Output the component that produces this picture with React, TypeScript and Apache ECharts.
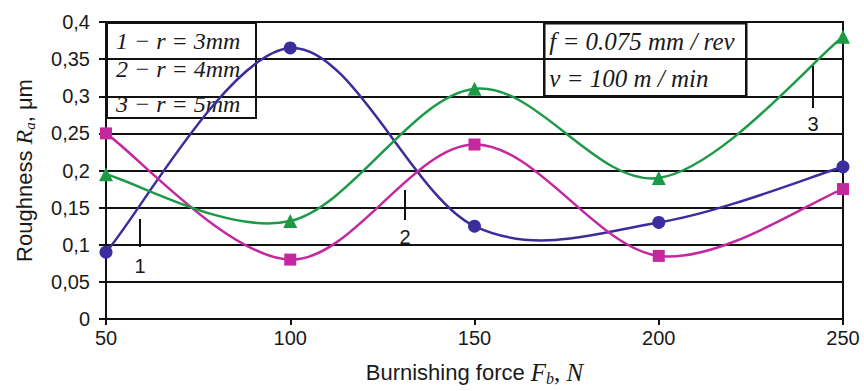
import React, { useEffect, useRef } from "react";
import * as echarts from "echarts";

const forces = [50, 100, 150, 200, 250];
const r3mm = [0.09, 0.365, 0.125, 0.13, 0.205];
const r4mm = [0.25, 0.08, 0.235, 0.085, 0.175];
const r5mm = [0.195, 0.132, 0.31, 0.19, 0.38];
const yTicks = [0, 0.05, 0.1, 0.15, 0.2, 0.25, 0.3, 0.35, 0.4];
const legendLines = ["1 − r = 3mm", "2 − r = 4mm", "3 − r = 5mm"];
const condLines = ["f = 0.075 mm / rev", "v = 100 m / min"];

const SANS = "'Liberation Sans', Arial, sans-serif";
const SERIF = "'Liberation Serif', 'Times New Roman', serif";
const INK = "#1a1a1a";

function pair(xs: number[], ys: number[]) {
  return xs.map((x, i) => [x, ys[i]]);
}

// Catmull-Rom style smoothed curve drawn segment by segment through the axes' scales
function curveSeries(ys: number[], color: string) {
  return {
    type: "custom",
    data: pair(forces, ys),
    z: 3,
    silent: true,
    renderItem: (params: any, api: any) => {
      const i = params.dataIndex;
      const n = forces.length;
      if (i >= n - 1) return { type: "group", children: [] };
      const p = (k: number) => {
        const kk = Math.max(0, Math.min(n - 1, k));
        return api.coord([forces[kk], ys[kk]]);
      };
      const p0 = p(i - 1), p1 = p(i), p2 = p(i + 1), p3 = p(i + 2);
      return {
        type: "bezierCurve",
        shape: {
          x1: p1[0],
          y1: p1[1],
          cpx1: p1[0] + (p2[0] - p0[0]) / 6,
          cpy1: p1[1] + (p2[1] - p0[1]) / 6,
          cpx2: p2[0] - (p3[0] - p1[0]) / 6,
          cpy2: p2[1] - (p3[1] - p1[1]) / 6,
          x2: p2[0],
          y2: p2[1],
        },
        style: { stroke: color, lineWidth: 2.5, fill: null },
      };
    },
  };
}

function markerSeries(ys: number[], color: string, symbol: string, size: number) {
  return {
    type: "scatter",
    data: pair(forces, ys),
    symbol,
    symbolSize: size,
    itemStyle: { color, opacity: 1 },
    z: 4,
    silent: true,
  };
}

export default function App() {
  const ref = useRef<HTMLDivElement>(null);
  useEffect(() => {
    if (!ref.current) return;
    const chart = echarts.init(ref.current, undefined, { renderer: "svg" });
    const BLUE = "#3b2d9c";
    const MAG = "#c3289e";
    const GREEN = "#1d9a48";
    chart.setOption({
      animation: false,
      backgroundColor: "#fff",
      grid: {
        left: 106,
        right: 21,
        top: 22,
        bottom: 69,
        show: true,
        borderColor: "#111",
        borderWidth: 2,
        backgroundColor: "transparent",
      },
      xAxis: {
        type: "value",
        min: 50,
        max: 250,
        interval: 50,
        axisLine: { show: true, lineStyle: { color: "#111", width: 2 } },
        axisTick: { show: true, length: 6, lineStyle: { color: "#111", width: 2 } },
        splitLine: { show: false },
        axisLabel: { color: INK, fontSize: 20, fontFamily: SANS, margin: 9 },
        name: "Burnishing force {i|F}{sub|b}{n|, }{i|N}",
        nameLocation: "middle",
        nameGap: 40,
        nameTextStyle: {
          color: INK,
          fontSize: 22,
          fontFamily: SANS,
          rich: {
            i: { fontFamily: SERIF, fontStyle: "italic", fontSize: 25, color: INK, verticalAlign: "middle", lineHeight: 27 },
            sub: { fontFamily: SERIF, fontStyle: "italic", fontSize: 16, color: INK, verticalAlign: "bottom", lineHeight: 15 },
            n: { fontFamily: SERIF, fontSize: 25, color: INK, verticalAlign: "middle", lineHeight: 27 },
          },
        },
      },
      yAxis: {
        type: "value",
        min: 0,
        max: 0.4,
        interval: 0.05,
        axisLine: { show: true, lineStyle: { color: "#111", width: 2 } },
        axisTick: { show: true, length: 7, lineStyle: { color: "#111", width: 2 } },
        splitLine: { show: true, lineStyle: { color: "#111", width: 2 } },
        axisLabel: {
          color: INK,
          fontSize: 20,
          fontFamily: SANS,
          margin: 16,
          formatter: (v: number) => {
            const t = yTicks.find((y) => Math.abs(y - v) < 1e-9);
            const s = String(Number((t ?? v).toFixed(2)));
            return s.replace(".", ",");
          },
        },
        name: "Roughness {i|R}{sub|a}{n|, μm}",
        nameLocation: "middle",
        nameRotate: 90,
        nameGap: 69,
        nameTextStyle: {
          color: INK,
          fontSize: 22,
          fontFamily: SANS,
          rich: {
            i: { fontFamily: SERIF, fontStyle: "italic", fontSize: 24, color: INK, verticalAlign: "middle", lineHeight: 26 },
            sub: { fontFamily: SERIF, fontStyle: "italic", fontSize: 15, color: INK, verticalAlign: "bottom", lineHeight: 15 },
            n: { fontFamily: SANS, fontSize: 22, color: INK, verticalAlign: "middle", lineHeight: 26 },
          },
        },
      },
      series: [
        curveSeries(r3mm, BLUE),
        curveSeries(r4mm, MAG),
        curveSeries(r5mm, GREEN),
        markerSeries(r3mm, BLUE, "circle", 13),
        markerSeries(r4mm, MAG, "rect", 12),
        markerSeries(r5mm, GREEN, "triangle", 14),
      ],
      graphic: [
        {
          type: "group",
          left: 106,
          top: 22,
          z: 10,
          children: [
            { type: "rect", shape: { x: 0, y: 0, width: 149, height: 95 }, style: { fill: "#fff", stroke: "#111", lineWidth: 2 } },
            ...legendLines.map((t, i) => ({
              type: "text",
              x: 9,
              y: [18, 46, 81][i],
              style: { text: t, fontFamily: SERIF, fontStyle: "italic", fontSize: 24, fill: INK, verticalAlign: "middle" },
            })),
          ],
        },
        {
          type: "group",
          left: 543,
          top: 22,
          z: 10,
          children: [
            { type: "rect", shape: { x: 0, y: 0, width: 202, height: 73 }, style: { fill: "#fff", stroke: "#111", lineWidth: 2.5 } },
            ...condLines.map((t, i) => ({
              type: "text",
              x: 5,
              y: [18, 55][i],
              style: { text: t, fontFamily: SERIF, fontStyle: "italic", fontSize: 25, fill: INK, verticalAlign: "middle" },
            })),
          ],
        },
        { type: "line", z: 10, shape: { x1: 140, y1: 219, x2: 140, y2: 247 }, style: { stroke: "#111", lineWidth: 2 } },
        { type: "text", z: 10, x: 140, y: 266, style: { text: "1", fontFamily: SANS, fontSize: 20, fill: INK, align: "center", verticalAlign: "middle" } },
        { type: "line", z: 10, shape: { x1: 405, y1: 190, x2: 405, y2: 220 }, style: { stroke: "#111", lineWidth: 2 } },
        { type: "text", z: 10, x: 405, y: 237, style: { text: "2", fontFamily: SANS, fontSize: 20, fill: INK, align: "center", verticalAlign: "middle" } },
        { type: "line", z: 10, shape: { x1: 813, y1: 66, x2: 813, y2: 108 }, style: { stroke: "#111", lineWidth: 2 } },
        { type: "text", z: 10, x: 813, y: 124, style: { text: "3", fontFamily: SANS, fontSize: 20, fill: INK, align: "center", verticalAlign: "middle" } },
      ],
    });
    return () => chart.dispose();
  }, []);
  return <div ref={ref} style={{ width: 864, height: 391, position: "absolute", left: 0, top: 0 }} />;
}
